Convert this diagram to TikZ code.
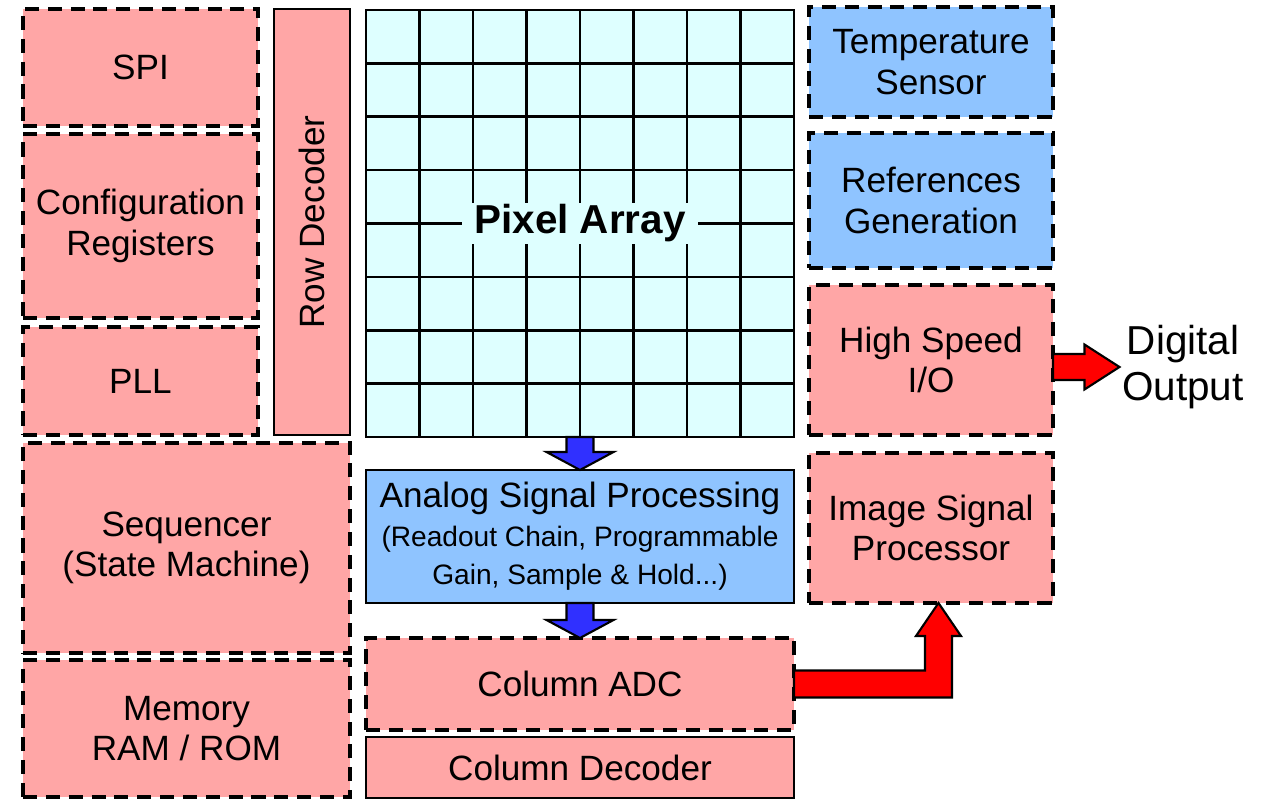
\documentclass[tikz,border=0pt]{standalone}
\usepackage{fontspec}
\setmainfont{Liberation Sans}
\usetikzlibrary{positioning, calc}

\definecolor{blkpink}{RGB}{255,166,166}
\definecolor{blkblue}{RGB}{143,196,255}
\definecolor{pixcyan}{RGB}{222,255,255}
\definecolor{flowblue}{RGB}{48,48,255}

\begin{document}
\begin{tikzpicture}[
        blk/.style={rectangle, draw=black, line width=1.5pt, inner sep=0pt, outer sep=0pt,
                    align=center, font=\fontsize{20}{23}\selectfont},
        dsh/.style={blk, line width=1.8pt, dash pattern=on 8pt off 5pt},
        pinkbox/.style={dsh, fill=blkpink},
        pinkbar/.style={blk, fill=blkpink},
        bluebox/.style={dsh, fill=blkblue},
        bluebar/.style={blk, fill=blkblue},
        gridln/.style={line width=1.5pt},
        flow/.style={draw=black, line width=1.2pt, fill=flowblue},
        bus/.style={draw=black, line width=1.2pt, fill=red}]
  \useasboundingbox (0,0) rectangle (25.36,-16);

  % left column
  \node[pinkbox, minimum width=4.7cm, minimum height=2.34cm] (spi) at (2.81,-1.35) {SPI};
  \node[pinkbox, minimum width=4.7cm, minimum height=3.68cm, below=0.16cm of spi] (cfg) {Configuration\\Registers};
  \node[pinkbox, minimum width=4.7cm, minimum height=2.16cm, below=0.18cm of cfg] (pll) {PLL};
  \node[pinkbar, minimum width=8.52cm, minimum height=1.52cm, rotate=90] (rowdec) at (6.24,-4.44) {Row Decoder};
  \node[pinkbox, minimum width=6.54cm, minimum height=4.2cm,
        below right=0.16cm and 0cm of pll.south west] (seq) {Sequencer\\(State Machine)};
  \node[pinkbox, minimum width=6.54cm, minimum height=2.74cm, below=0.14cm of seq] (mem) {Memory\\RAM / ROM};

  % pixel array and readout
  \node[blk, fill=pixcyan, minimum width=8.56cm, minimum height=8.54cm] (pix) at (11.6,-4.47) {};
  \foreach \i in {1,...,7} {
    \draw[gridln] ($(pix.south west)!\i/8!(pix.south east)$) -- ($(pix.north west)!\i/8!(pix.north east)$);
    \draw[gridln] ($(pix.south west)!\i/8!(pix.north west)$) -- ($(pix.south east)!\i/8!(pix.north east)$);
  }
  \node[fill=pixcyan, inner xsep=0.24cm, inner ysep=0.04cm,
        font=\fontsize{23}{26}\selectfont\bfseries] (pixlbl) at (pix.center) {Pixel Array};
  \node[bluebar, minimum width=8.56cm, minimum height=2.66cm, below=0.66cm of pix] (asp)
       {Analog Signal Processing\\[-1pt]\fontsize{16}{19}\selectfont(Readout Chain, Programmable\\[-1pt]\fontsize{16}{19}\selectfont Gain, Sample \& Hold...)};
  \node[pinkbox, minimum width=8.56cm, minimum height=1.84cm, below=0.7cm of asp] (adc) {Column ADC};
  \node[pinkbar, minimum width=8.56cm, minimum height=1.22cm, below=0.14cm of adc] (coldec) {Column Decoder};

  % right column
  \node[bluebox, minimum width=4.88cm, minimum height=2.2cm] (temp) at (18.62,-1.24) {Temperature\\Sensor};
  \node[bluebox, minimum width=4.88cm, minimum height=2.7cm, below=0.32cm of temp] (ref) {References\\Generation};
  \node[pinkbox, minimum width=4.88cm, minimum height=3cm, below=0.34cm of ref] (hsio) {High Speed\\I/O};
  \node[pinkbox, minimum width=4.88cm, minimum height=3cm, below=0.36cm of hsio] (isp) {Image Signal\\Processor};
  \node[align=center, inner sep=0.05cm, font=\fontsize{23}{26}\selectfont] (out) at (23.66,-7.34) {Digital\\Output};

  % data flow
  \draw[flow] ($(pix.south)+(-0.27,0)$) -- ($(asp.north)+(-0.27,0.36)$) -- ($(asp.north)+(-0.67,0.36)$)
      -- (asp.north) -- ($(asp.north)+(0.67,0.36)$) -- ($(asp.north)+(0.27,0.36)$) -- ($(pix.south)+(0.27,0)$) -- cycle;
  \draw[flow] ($(asp.south)+(-0.27,0)$) -- ($(adc.north)+(-0.27,0.36)$) -- ($(adc.north)+(-0.67,0.36)$)
      -- (adc.north) -- ($(adc.north)+(0.67,0.36)$) -- ($(adc.north)+(0.27,0.36)$) -- ($(asp.south)+(0.27,0)$) -- cycle;

  \coordinate (tip) at ($(isp.south)+(0.15,0)$);
  \coordinate (bend) at (tip |- adc.east);
  \draw[bus] ($(adc.east)+(0,0.27)$) -- ($(bend)+(-0.27,0.27)$) -- ($(tip)+(-0.27,-0.66)$) -- ($(tip)+(-0.45,-0.66)$)
      -- (tip) -- ($(tip)+(0.45,-0.66)$) -- ($(tip)+(0.27,-0.66)$) -- ($(bend)+(0.27,-0.27)$) -- ($(adc.east)+(0,-0.27)$) -- cycle;

  \coordinate (dstart) at (hsio.east |- out.west);
  \draw[bus] ($(dstart)+(0,0.26)$) -- ($(out.west)+(-0.7,0.26)$) -- ($(out.west)+(-0.7,0.45)$) -- (out.west)
      -- ($(out.west)+(-0.7,-0.45)$) -- ($(out.west)+(-0.7,-0.26)$) -- ($(dstart)+(0,-0.26)$) -- cycle;
\end{tikzpicture}
\end{document}
